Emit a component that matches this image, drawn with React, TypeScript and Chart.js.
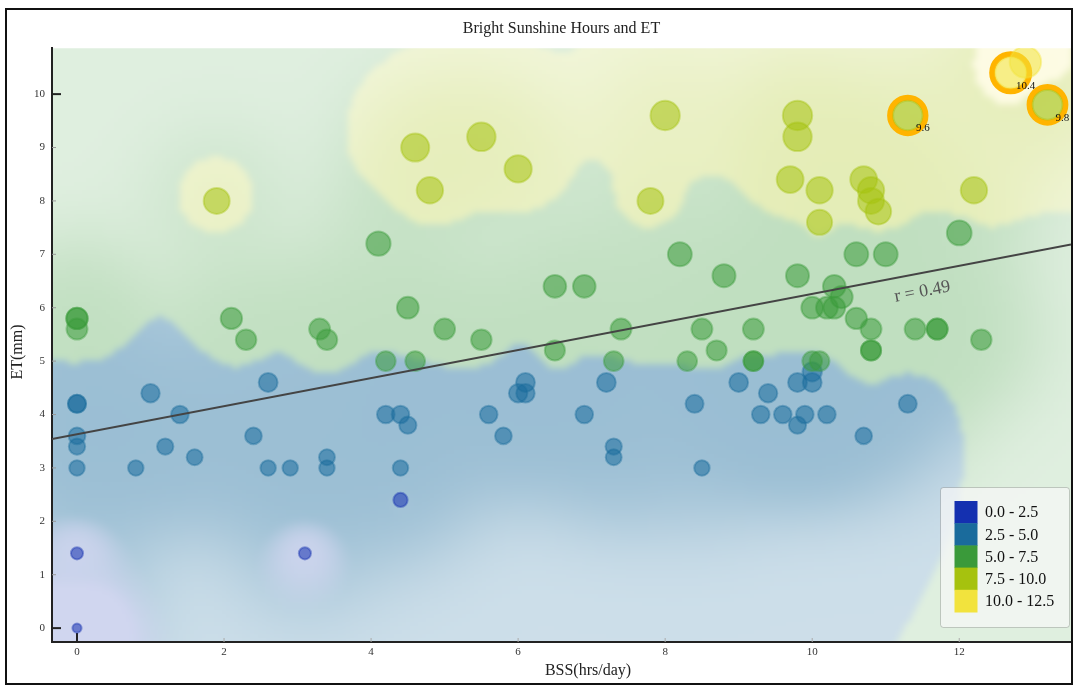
import React, { useEffect, useRef } from 'react';
import { Chart, registerables } from 'chart.js';

Chart.register(...registerables);

// ---- data ----
const bssHours = [
  0, 0, 3.1, 4.4,
  0, 0, 0, 0, 0, 0.8, 1.0, 1.2, 1.4, 1.6, 2.4, 2.6, 2.6, 2.9, 3.4, 3.4, 4.2, 4.4, 4.5, 4.4,
  5.6, 5.8, 6.0, 6.1, 6.1, 6.9, 7.2, 7.3, 7.3, 8.4, 8.5, 9.0, 9.3, 9.4, 9.6, 9.8, 9.8, 9.9,
  10.0, 10.0, 10.2, 10.7, 11.3,
  0, 0, 0, 2.1, 2.3, 3.3, 3.4, 4.1, 4.2, 4.5, 4.6, 5.0, 5.5, 6.5, 6.9, 6.5, 7.3, 7.4, 8.2,
  8.8, 8.3, 8.5, 8.7, 9.2, 9.2, 9.2, 9.8, 10.0, 10.2, 10.3, 10.3, 10.4, 10.6, 10.8, 10.8,
  10.8, 10.6, 11.0, 12.0, 11.4, 11.7, 11.7, 12.3, 10.0, 10.1,
  1.9, 4.6, 4.8, 5.5, 6.0, 7.8, 8.0, 9.8, 9.8, 9.7, 10.1, 10.1, 10.7, 10.8, 10.8, 10.9,
  12.2, 11.3, 13.2, 12.7, 12.9,
];
const etMm = [
  0, 1.4, 1.4, 2.4,
  4.2, 4.2, 3.6, 3.4, 3.0, 3.0, 4.4, 3.4, 4.0, 3.2, 3.6, 4.6, 3.0, 3.0, 3.2, 3.0, 4.0, 4.0, 3.8, 3.0,
  4.0, 3.6, 4.4, 4.4, 4.6, 4.0, 4.6, 3.4, 3.2, 4.2, 3.0, 4.6, 4.0, 4.4, 4.0, 4.6, 3.8, 4.0,
  4.6, 4.8, 4.0, 3.6, 4.2,
  5.8, 5.8, 5.6, 5.8, 5.4, 5.6, 5.4, 7.2, 5.0, 6.0, 5.0, 5.6, 5.4, 6.4, 6.4, 5.2, 5.0, 5.6, 7.0,
  6.6, 5.0, 5.6, 5.2, 5.6, 5.0, 5.0, 6.6, 6.0, 6.0, 6.0, 6.4, 6.2, 5.8, 5.6, 5.2,
  5.2, 7.0, 7.0, 7.4, 5.6, 5.6, 5.6, 5.4, 5.0, 5.0,
  8.0, 9.0, 8.2, 9.2, 8.6, 8.0, 9.6, 9.6, 9.2, 8.4, 8.2, 7.6, 8.4, 8.2, 8.0, 7.8,
  8.2, 9.6, 9.8, 10.4, 10.6,
];
const highlightBss = [11.3, 12.7, 13.2];
const highlightEt = [9.6, 10.4, 9.8];
const highlightLabels = ['9.6', '10.4', '9.8'];

const legendLabels = ['0.0 - 2.5', '2.5 - 5.0', '5.0 - 7.5', '7.5 - 10.0', '10.0 - 12.5'];
const legendBreaks = [0, 2.5, 5.0, 7.5, 10.0, 12.5];

const regSlope = 0.263;
const regIntercept = 3.63;
const rLabel = 'r = 0.49';

const TITLE = 'Bright Sunshine Hours and ET';
const X_TITLE = 'BSS(hrs/day)';
const Y_TITLE = 'ET(mm)';

// ---- styles ----
const PALETTE = ['#1430b0', '#1a6b9c', '#3a9a3a', '#a6c20e', '#f2e33d'];
const BG_ALPHA = [0.2, 0.44, 0.32, 0.3, 0.16];
const FONT = '"Liberation Serif", "DejaVu Serif", "Times New Roman", serif';
const X_MIN = -0.34;
const X_MAX = 13.52;
const Y_MIN = -0.26;
const Y_MAX = 10.86;

function hexRgb(h: string): [number, number, number] {
  const n = parseInt(h.slice(1), 16);
  return [(n >> 16) & 255, (n >> 8) & 255, n & 255];
}
const PAL_RGB = PALETTE.map(hexRgb);
function catIndex(v: number): number {
  for (let i = 0; i < legendLabels.length; i++) {
    if (v < legendBreaks[i + 1]) return i;
  }
  return legendLabels.length - 1;
}
function rgba(v: number, a: number): string {
  const [r, g, b] = PAL_RGB[catIndex(v)];
  return `rgba(${r},${g},${b},${a})`;
}
function radiusFor(v: number): number {
  return 4.6 + 1.05 * v;
}
function overWhite(c: number, a: number): [number, number, number] {
  const [r, g, b] = PAL_RGB[c];
  return [255 - a * (255 - r), 255 - a * (255 - g), 255 - a * (255 - b)];
}

const heatPlugin = {
  id: 'heat',
  beforeDraw(chart: any) {
    const { ctx, chartArea: ca, scales } = chart;
    const cell = 4;
    const margin = 16;
    const left = ca.left - margin;
    const top = ca.top - margin;
    const w = Math.ceil((ca.right - ca.left + 2 * margin) / cell);
    const h = Math.ceil((ca.bottom - ca.top + 2 * margin) / cell);
    const off = document.createElement('canvas');
    off.width = w;
    off.height = h;
    const octx = off.getContext('2d')!;
    const img = octx.createImageData(w, h);
    const px = bssHours.map((v) => scales.x.getPixelForValue(v));
    const py = etMm.map((v) => scales.y.getPixelForValue(v));
    const s2 = 2 * 50 * 50;
    for (let j = 0; j < h; j++) {
      const cy = top + (j + 0.5) * cell;
      for (let i = 0; i < w; i++) {
        const cx = left + (i + 0.5) * cell;
        let num = 0, den = 0, dens = 0;
        for (let k = 0; k < px.length; k++) {
          const dx = cx - px[k];
          const dy = cy - py[k];
          const d2 = dx * dx + dy * dy + 4;
          const wt = 1 / (d2 * Math.sqrt(d2));
          num += wt * etMm[k];
          den += wt;
          dens += Math.exp(-d2 / s2);
        }
        const val = num / den;
        const f = 0.5 + 0.5 * (1 - Math.exp(-dens / 1.5));
        let col: [number, number, number];
        const c = catIndex(val);
        if (c === 0) {
          const t = Math.min(1, Math.max(0, (2.5 - val) / 1.3));
          const a1 = overWhite(1, BG_ALPHA[1] * f);
          const a0 = overWhite(0, BG_ALPHA[0]);
          col = [a1[0] * (1 - t) + a0[0] * t, a1[1] * (1 - t) + a0[1] * t, a1[2] * (1 - t) + a0[2] * t];
        } else {
          col = overWhite(c, BG_ALPHA[c] * f);
        }
        const o = (j * w + i) * 4;
        img.data[o] = Math.round(col[0]);
        img.data[o + 1] = Math.round(col[1]);
        img.data[o + 2] = Math.round(col[2]);
        img.data[o + 3] = 255;
      }
    }
    octx.putImageData(img, 0, 0);
    ctx.save();
    ctx.beginPath();
    ctx.rect(ca.left, ca.top, ca.right - ca.left, ca.bottom - ca.top);
    ctx.clip();
    ctx.imageSmoothingEnabled = true;
    ctx.filter = 'blur(3px)';
    ctx.drawImage(off, left, top, w * cell, h * cell);
    ctx.filter = 'none';
    ctx.restore();
  },
  beforeDatasetsDraw(chart: any) {
    const { ctx, chartArea: ca, scales } = chart;
    // tick marks (inside)
    ctx.save();
    const xs = scales.x, ys = scales.y;
    ys.ticks.forEach((t: any) => {
      const y = ys.getPixelForValue(t.value);
      const strong = t.value === 0 || t.value === 10;
      ctx.strokeStyle = strong ? '#222' : '#999';
      ctx.lineWidth = strong ? 2 : 1;
      ctx.beginPath();
      ctx.moveTo(ca.left, y);
      ctx.lineTo(ca.left + (strong ? 9 : 4), y);
      ctx.stroke();
    });
    xs.ticks.forEach((t: any) => {
      const x = xs.getPixelForValue(t.value);
      const strong = t.value === 0;
      ctx.strokeStyle = strong ? '#222' : '#aaa';
      ctx.lineWidth = strong ? 2 : 1;
      ctx.beginPath();
      ctx.moveTo(x, ca.bottom);
      ctx.lineTo(x, ca.bottom - (strong ? 9 : 4));
      ctx.stroke();
    });
    ctx.restore();
  },
  afterDatasetsDraw(chart: any) {
    const { ctx, chartArea: ca, scales } = chart;
    const xs = scales.x, ys = scales.y;
    ctx.save();
    // highlight labels
    ctx.fillStyle = '#111';
    ctx.font = `11px ${FONT}`;
    ctx.textAlign = 'center';
    ctx.textBaseline = 'middle';
    highlightBss.forEach((x, i) => {
      const px = xs.getPixelForValue(x);
      const py = ys.getPixelForValue(highlightEt[i]);
      ctx.fillText(highlightLabels[i], px + 15, py + 13);
    });
    // regression label
    const lx = 11.5, ly = 6.3;
    const angle = Math.atan2(
      ys.getPixelForValue(regIntercept + regSlope * 1) - ys.getPixelForValue(regIntercept),
      xs.getPixelForValue(1) - xs.getPixelForValue(0)
    );
    ctx.translate(xs.getPixelForValue(lx), ys.getPixelForValue(ly));
    ctx.rotate(angle);
    ctx.fillStyle = '#555';
    ctx.font = `18px ${FONT}`;
    ctx.fillText(rLabel, 0, 0);
    ctx.restore();

    // axis titles
    ctx.save();
    ctx.fillStyle = '#222';
    ctx.font = `16px ${FONT}`;
    ctx.textAlign = 'center';
    ctx.textBaseline = 'middle';
    ctx.fillText(X_TITLE, 581, 661);
    ctx.translate(11, 342);
    ctx.rotate(-Math.PI / 2);
    ctx.fillText(Y_TITLE, 0, 0);
    ctx.restore();

    // legend
    ctx.save();
    const bx = ca.right - 131, by = ca.bottom - 155, bw = 129, bh = 140;
    ctx.fillStyle = 'rgba(246,246,246,0.72)';
    ctx.strokeStyle = 'rgba(0,0,0,0.18)';
    ctx.lineWidth = 1;
    ctx.beginPath();
    ctx.roundRect(bx + 0.5, by + 0.5, bw, bh, 3);
    ctx.fill();
    ctx.stroke();
    const sq = 22.2;
    ctx.font = `16px ${FONT}`;
    ctx.textAlign = 'left';
    ctx.textBaseline = 'middle';
    legendLabels.forEach((lab, i) => {
      ctx.fillStyle = PALETTE[i];
      ctx.fillRect(bx + 14.5, by + 14 + i * sq, 23, sq + 0.5);
      ctx.fillStyle = '#111';
      ctx.fillText(lab, bx + 45, by + 14 + i * sq + sq / 2 + 1);
    });
    ctx.restore();
  },
};

export default function App() {
  const ref = useRef<HTMLCanvasElement>(null);
  useEffect(() => {
    const canvas = ref.current!;
    const pts = bssHours.map((x, i) => ({ x, y: etMm[i] }));
    const hl = highlightBss.map((x, i) => ({ x, y: highlightEt[i] }));
    const rawY = (c: any) => (c.raw && typeof c.raw.y === 'number' ? c.raw.y : 5);
    const chart = new Chart(canvas, {
      type: 'scatter',
      data: {
        datasets: [
          {
            type: 'line',
            data: [
              { x: X_MIN, y: regIntercept + regSlope * X_MIN },
              { x: X_MAX, y: regIntercept + regSlope * X_MAX },
            ],
            borderColor: '#444',
            borderWidth: 2,
            pointRadius: 0,
            fill: false,
          } as any,
          {
            data: pts,
            pointRadius: (c: any) => radiusFor(rawY(c)),
            backgroundColor: (c: any) => rgba(rawY(c), 0.55),
            borderColor: (c: any) => rgba(rawY(c), 0.4),
            borderWidth: 2,
          },
          {
            data: hl,
            pointRadius: (c: any) => radiusFor(rawY(c)) + 3,
            backgroundColor: 'rgba(0,0,0,0)',
            borderColor: '#ffb400',
            borderWidth: 6,
          },
        ],
      },
      options: {
        responsive: false,
        animation: false,
        events: [],
        layout: { padding: 0, autoPadding: false },
        plugins: {
          legend: { display: false },
          tooltip: { enabled: false },
          title: {
            display: true,
            text: TITLE,
            fullSize: false,
            color: '#222',
            font: { family: FONT, size: 16, weight: 'normal' },
            padding: { top: 9, bottom: 10 },
          },
        },
        scales: {
          x: {
            type: 'linear',
            min: X_MIN,
            max: X_MAX,
            afterFit: (s: any) => { s.height = 41; s.paddingLeft = 0; s.paddingRight = 0; },
            ticks: { stepSize: 2, includeBounds: false, color: '#333', font: { family: FONT, size: 11 }, padding: 4 },
            grid: { display: false, drawTicks: false },
            border: { display: true, color: '#222', width: 2 },
          },
          y: {
            type: 'linear',
            min: Y_MIN,
            max: Y_MAX,
            afterFit: (s: any) => { s.width = 45; s.paddingTop = 0; s.paddingBottom = 0; },
            ticks: { stepSize: 1, includeBounds: false, color: '#333', font: { family: FONT, size: 11 }, padding: 7 },
            grid: { display: false, drawTicks: false },
            border: { display: true, color: '#222', width: 2 },
          },
        },
      } as any,
      plugins: [heatPlugin],
    });
    return () => chart.destroy();
  }, []);
  return (
    <div
      style={{
        position: 'absolute',
        left: 5,
        top: 8,
        width: 1068,
        height: 677,
        border: '2px solid #111',
        boxSizing: 'border-box',
        background: '#fff',
      }}
    >
      <canvas ref={ref} width={1064} height={673} style={{ display: 'block' }} />
    </div>
  );
}
